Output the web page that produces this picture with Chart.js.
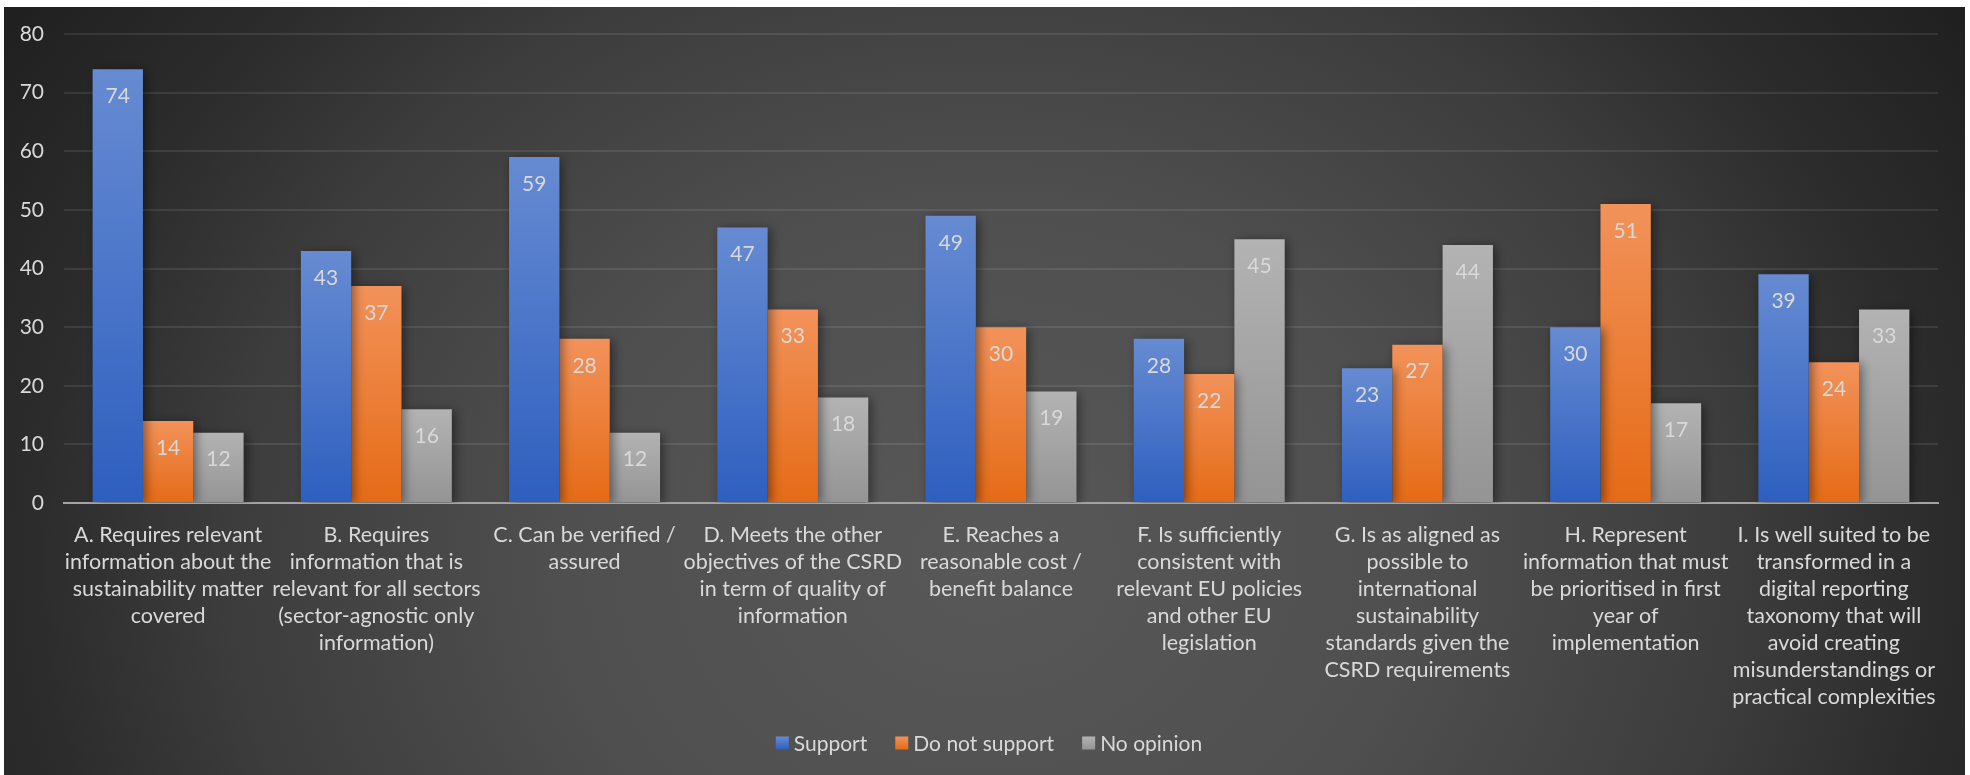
<!DOCTYPE html>
<html>
<head>
<meta charset="utf-8">
<script src="https://cdn.jsdelivr.net/npm/chart.js@4.4.1/dist/chart.umd.min.js"></script>
<style>
  html, body { margin: 0; padding: 0; background: #ffffff; }
  canvas { display: block; }
</style>
</head>
<body>
<canvas id="c" width="1970" height="775"></canvas>
<script>
const categories = [
  ["A. Requires relevant", "information about the", "sustainability matter", "covered"],
  ["B. Requires", "information that is", "relevant for all sectors", "(sector-agnostic only", "information)"],
  ["C. Can be verified /", "assured"],
  ["D. Meets the other", "objectives of the CSRD", "in term of quality of", "information"],
  ["E. Reaches a", "reasonable cost /", "benefit balance"],
  ["F. Is sufficiently", "consistent with", "relevant EU policies", "and other EU", "legislation"],
  ["G. Is as aligned as", "possible to", "international", "sustainability", "standards given the", "CSRD requirements"],
  ["H. Represent", "information that must", "be prioritised in first", "year of", "implementation"],
  ["I. Is well suited to be", "transformed in a", "digital reporting", "taxonomy that will", "avoid creating", "misunderstandings or", "practical complexities"]
];
const seriesNames = ["Support", "Do not support", "No opinion"];
const supportValues = [74, 43, 59, 47, 49, 28, 23, 30, 39];
const notSupportValues = [14, 37, 28, 33, 30, 22, 27, 51, 24];
const noOpinionValues = [12, 16, 12, 18, 19, 45, 44, 17, 33];
const yTicks = [0, 10, 20, 30, 40, 50, 60, 70, 80];

const gradStops = [
  ["#668bd2", "#2e5fbf"],
  ["#f2925a", "#e56b16"],
  ["#b3b3b3", "#949494"]
];
const solid = ["#4472c4", "#ed7d31", "#a5a5a5"];
const FONT = "Lato, 'Open Sans', sans-serif";
const TEXT = "#d9d9d9";

function barFill(dsIndex) {
  return function(ctx) {
    const chart = ctx.chart;
    if (ctx.type !== 'data' || !chart.chartArea || !chart.scales.y) return solid[dsIndex];
    const y = chart.scales.y;
    const top = y.getPixelForValue(ctx.raw);
    const base = y.getPixelForValue(0);
    if (!isFinite(top) || !isFinite(base) || top === base) return solid[dsIndex];
    const g = chart.ctx.createLinearGradient(0, top, 0, base);
    g.addColorStop(0, gradStops[dsIndex][0]);
    g.addColorStop(1, gradStops[dsIndex][1]);
    return g;
  };
}

const bgPlugin = {
  id: 'bg',
  beforeDraw(chart) {
    const c = chart.ctx;
    const W = chart.width, H = chart.height;
    c.save();
    c.fillStyle = '#ffffff';
    c.fillRect(0, 0, W, H);
    const x0 = 4, y0 = 7, x1 = 1965, y1 = 775;
    const cx = 985, cy = 560, rx = 950, ry = 800;
    c.beginPath();
    c.rect(x0, y0, x1 - x0, y1 - y0);
    c.clip();
    c.translate(cx, cy);
    c.scale(1, ry / rx);
    const g = c.createRadialGradient(0, 0, 0, 0, 0, rx * 1.25);
    g.addColorStop(0, '#585858');
    g.addColorStop(0.36, '#4f4f4f');
    g.addColorStop(0.64, '#3c3c3c');
    g.addColorStop(0.8, '#2c2c2c');
    g.addColorStop(1, '#1f1f1f');
    c.fillStyle = g;
    c.fillRect(-cx - 10, -cy * rx / ry - 1000, 4000, 4000);
    c.restore();
  }
};

const barDecor = {
  id: 'barDecor',
  beforeDatasetsDraw(chart) {
    const c = chart.ctx;
    c.save();
    c.shadowColor = 'rgba(0,0,0,0.45)';
    c.shadowBlur = 10;
    c.shadowOffsetX = 3;
    c.shadowOffsetY = 2;
  },
  afterDatasetsDraw(chart) {
    const c = chart.ctx;
    c.restore();
    c.save();
    c.fillStyle = TEXT;
    c.font = "21px " + FONT;
    c.textAlign = 'center';
    c.textBaseline = 'middle';
    chart.data.datasets.forEach((ds, di) => {
      const meta = chart.getDatasetMeta(di);
      meta.data.forEach((bar, i) => {
        c.fillText(String(ds.data[i]), bar.x, bar.y + 27);
      });
    });
    c.restore();
  }
};

const legendPlugin = {
  id: 'customLegend',
  afterDraw(chart) {
    const c = chart.ctx;
    c.save();
    c.font = "21px " + FONT;
    c.textBaseline = 'middle';
    c.textAlign = 'left';
    const box = 13, gapText = 5, gapItem = 28;
    const widths = seriesNames.map(n => c.measureText(n).width);
    let total = 0;
    widths.forEach((w, i) => { total += box + gapText + w + (i < widths.length - 1 ? gapItem : 0); });
    let x = 989 - total / 2;
    const yc = 743;
    seriesNames.forEach((n, i) => {
      const g = c.createLinearGradient(0, yc - box / 2, 0, yc + box / 2);
      g.addColorStop(0, gradStops[i][0]);
      g.addColorStop(1, gradStops[i][1]);
      c.fillStyle = g;
      c.fillRect(x, yc - box / 2, box, box);
      c.fillStyle = TEXT;
      c.fillText(n, x + box + gapText, yc + 1);
      x += box + gapText + widths[i] + gapItem;
    });
    c.restore();
  }
};

new Chart(document.getElementById('c'), {
  type: 'bar',
  data: {
    labels: categories,
    datasets: [
      { label: seriesNames[0], data: supportValues, backgroundColor: barFill(0) },
      { label: seriesNames[1], data: notSupportValues, backgroundColor: barFill(1) },
      { label: seriesNames[2], data: noOpinionValues, backgroundColor: barFill(2) }
    ]
  },
  options: {
    responsive: false,
    animation: false,
    devicePixelRatio: 1,
    layout: { padding: { top: 34, right: 32, left: 0, bottom: 0 } },
    datasets: { bar: { barPercentage: 1.0, categoryPercentage: 0.725, borderWidth: 0 } },
    plugins: {
      legend: { display: false },
      tooltip: { enabled: false },
      title: { display: false }
    },
    scales: {
      x: {
        grid: { display: false },
        border: { display: true, color: '#a3a3a3', width: 2 },
        ticks: {
          color: TEXT,
          font: { family: FONT, size: 21.5, lineHeight: '27px' },
          maxRotation: 0, minRotation: 0, autoSkip: false, padding: 11
        },
        afterFit(scale) { scale.height = 272; }
      },
      y: {
        min: 0, max: 80,
        afterBuildTicks(scale) { scale.ticks = yTicks.map(v => ({ value: v })); },
        grid: { color: 'rgba(255,255,255,0.09)', lineWidth: 2, drawTicks: false },
        border: { display: false },
        ticks: {
          color: TEXT,
          font: { family: FONT, size: 21 },
          padding: 20
        },
        afterFit(scale) { scale.width = 64; }
      }
    }
  },
  plugins: [bgPlugin, barDecor, legendPlugin]
});
</script>
</body>
</html>
